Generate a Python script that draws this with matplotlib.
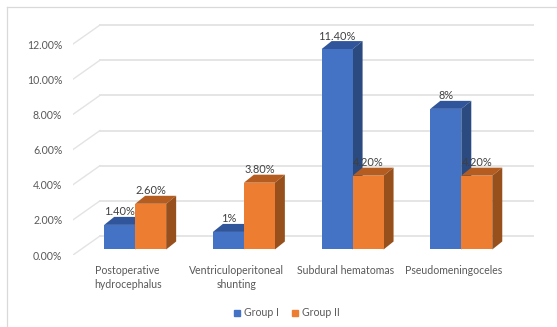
import matplotlib
matplotlib.use("Agg")
import matplotlib.pyplot as plt
from matplotlib.lines import Line2D
from matplotlib.patches import Patch, Polygon

# ── Data ───────────────────────────────────────────────────────────────────────
CATEGORIES = ["Postoperative\nhydrocephalus", "Ventriculoperitoneal\nshunting",
              "Subdural hematomas", "Pseudomeningoceles"]
GROUP_1 = [1.4, 1.0, 11.4, 8.0]
GROUP_2 = [2.6, 3.8, 4.2, 4.2]
GROUP_1_LABELS = ["1.40%", "1%", "11.40%", "8%"]
GROUP_2_LABELS = ["2.60%", "3.80%", "4.20%", "4.20%"]
Y_TICKS = [0, 2, 4, 6, 8, 10, 12]
Y_TICK_LABELS = ["0.00%", "2.00%", "4.00%", "6.00%", "8.00%", "10.00%", "12.00%"]

# ── Style ──────────────────────────────────────────────────────────────────────
BLUE, BLUE_TOP, BLUE_SIDE = "#4472C4", "#30559A", "#2A4A80"
ORANGE, ORANGE_TOP, ORANGE_SIDE = "#ED7D31", "#B55D20", "#97501C"
TEXT_COLOR = "#595959"
GRID_COLOR = "#E3E3E3"
BORDER_COLOR = "#D9D9D9"

plt.rcParams.update({
    "font.family": "Lato",
    "font.size": 7.6,
    "text.color": TEXT_COLOR,
})

# fake 3D projection, in data units
BAR_WIDTH = 0.285
WALL_DX, WALL_DY = 0.248, 1.08      # front of the floor to the back wall
LIFT_DX, LIFT_DY = 0.069, 0.313     # how far in from the floor edge the bars stand
BAR_DX, BAR_DY = 0.092, 0.455       # depth of one bar


def draw_bar_3d(ax, left, value, front, top, side, zorder):
    """One bar: flat front from ax.bar, then top and side faces behind it."""
    right = left + BAR_WIDTH
    base = LIFT_DY
    height = base + value
    ax.add_patch(Polygon([(left, height), (right, height),
                          (right + BAR_DX, height + BAR_DY), (left + BAR_DX, height + BAR_DY)],
                         facecolor=top, edgecolor="none", zorder=zorder))
    ax.add_patch(Polygon([(right, base), (right + BAR_DX, base + BAR_DY),
                          (right + BAR_DX, height + BAR_DY), (right, height)],
                         facecolor=side, edgecolor="none", zorder=zorder))
    ax.bar(left, value, BAR_WIDTH, bottom=base, align="edge", color=front,
           edgecolor="none", zorder=zorder)


def main():
    fig = plt.figure(figsize=(5.57, 3.27), dpi=100)
    ax = fig.add_axes([73 / 557, 1 - 255 / 327, (534 - 73) / 557, (255 - 24) / 327])
    ax.patch.set_visible(False)
    ax.set_xlim(-0.503, 3.738)
    ax.set_ylim(0, 13.14)
    for spine in ax.spines.values():
        spine.set_visible(False)

    # back wall and the floor diagonals
    for tick in Y_TICKS:
        ax.plot([-0.503, -0.503 + WALL_DX], [tick, tick + WALL_DY], color=GRID_COLOR, lw=1.0, zorder=1)
        ax.plot([-0.503 + WALL_DX, 3.738], [tick + WALL_DY] * 2, color=GRID_COLOR, lw=1.3, zorder=1)

    for i in range(len(CATEGORIES)):
        centre = i + LIFT_DX
        draw_bar_3d(ax, centre - BAR_WIDTH, GROUP_1[i], BLUE, BLUE_TOP, BLUE_SIDE, 2)
        draw_bar_3d(ax, centre, GROUP_2[i], ORANGE, ORANGE_TOP, ORANGE_SIDE, 3)
        ax.annotate(GROUP_1_LABELS[i], (centre - BAR_WIDTH / 2, LIFT_DY + GROUP_1[i]),
                    xytext=(0, 9.4), textcoords="offset points",
                    ha="center", va="center", fontsize=7.9, color="#404040", zorder=5)
        ax.annotate(GROUP_2_LABELS[i], (centre + BAR_WIDTH / 2, LIFT_DY + GROUP_2[i]),
                    xytext=(0, 9.4), textcoords="offset points",
                    ha="center", va="center", fontsize=7.9, color="#404040", zorder=5)

    ax.set_yticks(Y_TICKS, Y_TICK_LABELS)
    ax.set_xticks(range(len(CATEGORIES)), CATEGORIES, linespacing=1.35)
    ax.tick_params(axis="y", length=0, pad=7.7, colors=TEXT_COLOR)
    ax.tick_params(axis="x", length=0, pad=7, colors=TEXT_COLOR)

    handles = [Patch(color=BLUE, label="Group I"), Patch(color=ORANGE, label="Group II")]
    fig.legend(handles=handles, loc="center", bbox_to_anchor=(287 / 557, 1 - 313 / 327),
               ncol=2, frameon=False, handlelength=0.55, handleheight=0.55,
               handletextpad=0.4, columnspacing=1.2, labelcolor=TEXT_COLOR, fontsize=7.6)

    # outer chart frame, cut off on the right and bottom
    fig.add_artist(Line2D([7 / 557, 7 / 557], [0, 1 - 7 / 327], color=BORDER_COLOR, lw=0.9))
    fig.add_artist(Line2D([7 / 557, 1], [1 - 7 / 327, 1 - 7 / 327], color=BORDER_COLOR, lw=0.9))

    fig.savefig("out.png", dpi=100)
    plt.close(fig)


if __name__ == "__main__":
    main()
